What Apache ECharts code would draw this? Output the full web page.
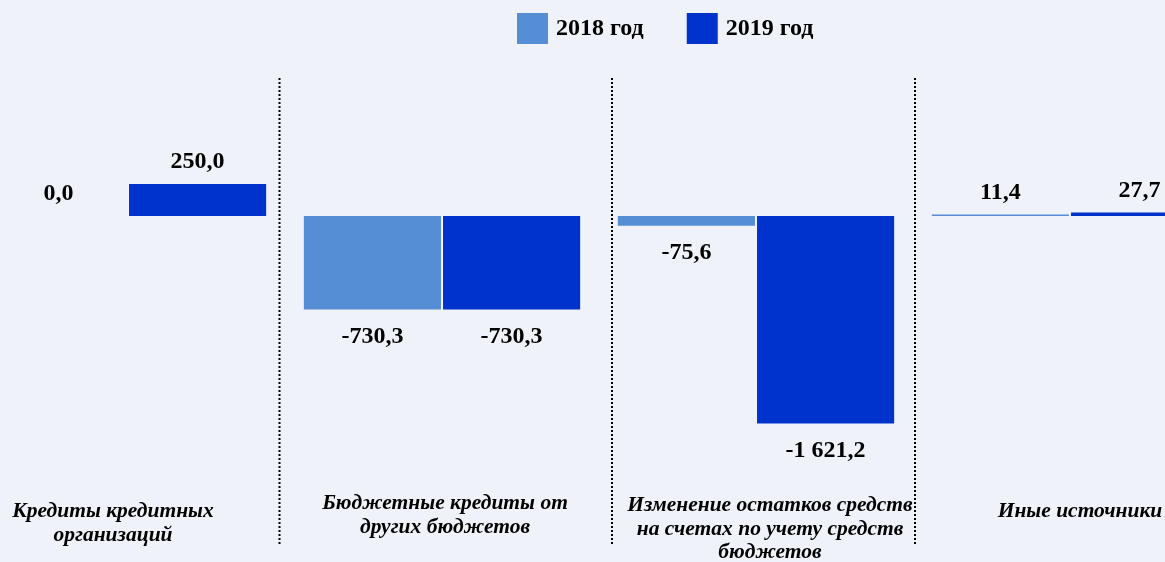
<!DOCTYPE html>
<html>
<head>
<meta charset="utf-8">
<script src="https://cdn.jsdelivr.net/npm/echarts@6/dist/echarts.min.js"></script>
<style>
html,body{margin:0;padding:0;background:#eff3f9;}
#chart{width:1165px;height:562px;}
</style>
</head>
<body>
<div id="chart"></div>
<script>
var categories = [
  'Кредиты кредитных\nорганизаций',
  'Бюджетные кредиты от\nдругих бюджетов',
  'Изменение остатков средств\nна счетах по учету средств\nбюджетов',
  'Иные источники'
];
var seriesNames = ['2018 год', '2019 год'];
var values2018 = [0.0, -730.3, -75.6, 11.4];
var values2019 = [250.0, -730.3, -1621.2, 27.7];
var colors = ['#558ed5', '#0033cc'];

// small per-category label nudges (padding) to mimic reference placement
var labelPads = [[8, 30, 0, 0], [0, 0, 0, 6], [2, 0, 0, 28], [8, 0, 0, 20]];

function fmt(v) {
  var s = Math.abs(v).toFixed(1).split('.');
  var int = s[0].replace(/\B(?=(\d{3})+(?!\d))/g, ' ');
  return (v < 0 ? '-' : '') + int + ',' + s[1];
}
function buildData(arr) {
  return arr.map(function (v) {
    return {
      value: v,
      label: {
        position: v < 0 ? 'bottom' : 'top',
        distance: v < 0 ? 15 : 10
      }
    };
  });
}

var chart = echarts.init(document.getElementById('chart'));
var serif = '"Liberation Serif", "Times New Roman", serif';
var option = {
  backgroundColor: '#eff3f9',
  animation: false,
  legend: {
    left: 512,
    top: 8,
    itemWidth: 31,
    itemHeight: 31,
    itemGap: 43,
    icon: 'rect',
    data: seriesNames,
    textStyle: {
      fontFamily: serif,
      fontWeight: 'bold',
      fontSize: 24,
      color: '#000',
      padding: [0, 0, 0, 3]
    }
  },
  grid: {
    left: -29,
    right: -62,
    top: 152,
    bottom: 90,
    containLabel: false,
    outerBoundsMode: 'none'
  },
  xAxis: {
    type: 'category',
    data: categories.map(function (c, i) {
      return { value: c, textStyle: { padding: labelPads[i] } };
    }),
    axisLine: { show: false, onZero: false },
    axisTick: { show: false },
    axisLabel: {
      interval: 0,
      margin: 20,
      fontFamily: serif,
      fontStyle: 'italic',
      fontWeight: 'bold',
      fontSize: 21.5,
      lineHeight: 23.5,
      color: '#000',
      verticalAlign: 'top'
    }
  },
  yAxis: {
    type: 'value',
    min: -2000,
    max: 500,
    show: false,
    splitLine: { show: false }
  },
  series: [
    {
      name: seriesNames[0],
      type: 'bar',
      data: buildData(values2018),
      barCategoryGap: '12%',
      barGap: '1.5%',
      itemStyle: { color: colors[0] },
      label: {
        show: true,
        fontFamily: serif,
        fontWeight: 'bold',
        fontSize: 24,
        color: '#000',
        formatter: function (p) { return fmt(p.value); }
      }
    },
    {
      name: seriesNames[1],
      type: 'bar',
      data: buildData(values2019),
      barCategoryGap: '12%',
      barGap: '1.5%',
      itemStyle: { color: colors[1] },
      label: {
        show: true,
        fontFamily: serif,
        fontWeight: 'bold',
        fontSize: 24,
        color: '#000',
        formatter: function (p) { return fmt(p.value); }
      }
    }
  ],
  graphic: [279.5, 612, 915].map(function (x) {
    return {
      type: 'line',
      shape: { x1: x, y1: 78, x2: x, y2: 545 },
      style: { stroke: '#000', lineWidth: 2, lineDash: [2, 2] },
      silent: true
    };
  })
};
chart.setOption(option);
</script>
</body>
</html>
